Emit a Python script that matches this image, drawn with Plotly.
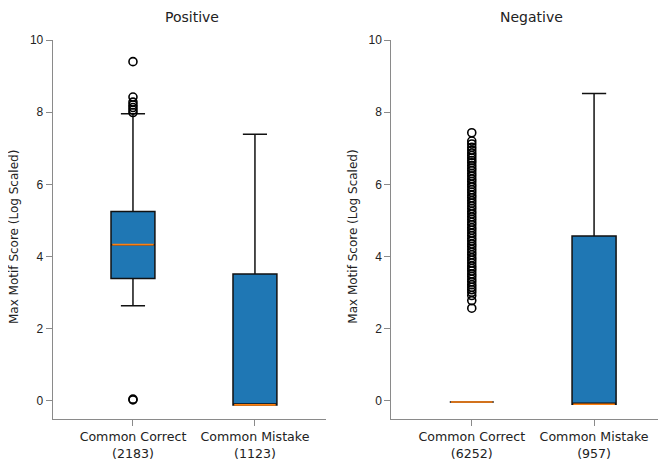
import plotly.graph_objects as go
from plotly.subplots import make_subplots

# ---- data ----
positions = [1, 2]
pos_labels = ["Common Correct<br>(2183)", "Common Mistake<br>(1123)"]
neg_labels = ["Common Correct<br>(6252)", "Common Mistake<br>(957)"]

pos_q1 = [3.39, -0.11]
pos_median = [4.33, -0.11]
pos_q3 = [5.25, 3.52]
pos_low = [2.64, -0.11]
pos_high = [7.96, 7.39]

neg_q1 = [-0.03, -0.09]
neg_median = [-0.03, -0.09]
neg_q3 = [-0.03, 4.57]
neg_low = [-0.03, -0.09]
neg_high = [-0.03, 8.52]

pos_correct_outliers = [9.40, 8.42, 8.28, 8.20, 8.13, 8.06, 7.99, 0.05, 0.03]
neg_correct_outliers = [2.57, 2.78, 2.92, 3.01, 3.08, 3.15, 3.22, 3.30, 3.37, 3.45,
                        3.52, 3.60, 3.67, 3.74, 3.82, 3.90, 3.97, 4.05, 4.12, 4.20,
                        4.28, 4.35, 4.43, 4.50, 4.58, 4.65, 4.73, 4.80, 4.88, 4.95,
                        5.03, 5.10, 5.18, 5.25, 5.33, 5.40, 5.48, 5.55, 5.63, 5.70,
                        5.78, 5.85, 5.93, 6.00, 6.08, 6.15, 6.23, 6.30, 6.38, 6.45,
                        6.52, 6.60, 6.66, 6.73, 6.80, 6.87, 6.95, 7.03, 7.12, 7.20, 7.43]

y_ticks = [0, 2, 4, 6, 8, 10]
titles = ["Positive", "Negative"]
y_title = "Max Motif Score (Log Scaled)"

# ---- style ----
BOX_FILL = "#1f77b4"
MEDIAN = "#ff7f0e"
EDGE = "#111111"
AXIS = "#8a8a8a"
BOX_W = 0.36
TEXT_FONT = "DejaVu Sans, Verdana, sans-serif"
NUM_FONT = "Liberation Sans, Arial, sans-serif"

# page body has an 8px margin, so the canvas is shrunk accordingly
W, H = 658, 451
TOP, BOTTOM = 32, 40
PLOT_H = H - TOP - BOTTOM

fig = make_subplots(rows=1, cols=2)

panels = [
    (pos_q1, pos_median, pos_q3, pos_low, pos_high, pos_correct_outliers, pos_labels),
    (neg_q1, neg_median, neg_q3, neg_low, neg_high, neg_correct_outliers, neg_labels),
]

for i, (q1, med, q3, lo, hi, outl, labels) in enumerate(panels):
    col = i + 1
    fig.add_trace(go.Box(
        x=positions, q1=q1, median=med, q3=q3, lowerfence=lo, upperfence=hi,
        boxpoints=False, width=BOX_W, whiskerwidth=0.55,
        fillcolor=BOX_FILL, line=dict(color=EDGE, width=1.5),
        showlegend=False, hoverinfo="skip"), row=1, col=col)
    # median lines (orange)
    for p, m in zip(positions, med):
        fig.add_trace(go.Scatter(
            x=[p - BOX_W / 2 + 0.01, p + BOX_W / 2 - 0.01], y=[m, m], mode="lines",
            line=dict(color=MEDIAN, width=1.6), showlegend=False, hoverinfo="skip"),
            row=1, col=col)
    # outliers
    fig.add_trace(go.Scatter(
        x=[positions[0]] * len(outl), y=outl, mode="markers",
        marker=dict(symbol="circle-open", size=8, color="black", line=dict(width=1.6)),
        showlegend=False, hoverinfo="skip"), row=1, col=col)

x_px = [[44.7, 317.7], [383.3, 657.0]]
x_domains = [[a / W, b / W] for a, b in x_px]
title_x = [5.3, 345]
for i, labels in enumerate([pos_labels, neg_labels]):
    xa = "xaxis" if i == 0 else "xaxis2"
    ya = "yaxis" if i == 0 else "yaxis2"
    fig.layout[xa].update(
        domain=x_domains[i], range=[0.342, 2.58], tickmode="array",
        tickvals=positions, ticktext=labels, showgrid=False, zeroline=False,
        showline=True, linecolor=AXIS, linewidth=1, ticks="outside", ticklen=6,
        tickcolor=AXIS, automargin=False,
        tickfont=dict(family=TEXT_FONT, size=12.6, color="#222"))
    fig.layout[ya].update(
        range=[-0.5, 10], tickmode="array", tickvals=y_ticks,
        ticktext=[str(t) for t in y_ticks], showgrid=False, zeroline=False,
        showline=True, linecolor=AXIS, linewidth=1, ticks="outside", ticklen=6,
        tickcolor=AXIS, automargin=False,
        tickfont=dict(family=NUM_FONT, size=12, color="#222"))
    fig.add_annotation(
        text=titles[i], xref="paper", yref="paper",
        x=(sum(x_px[i]) / 2 + 3) / W, y=1 + (TOP - 9) / PLOT_H, xanchor="center",
        yanchor="middle", showarrow=False,
        font=dict(family=TEXT_FONT, size=14, color="#222"))
    fig.add_annotation(
        text=y_title, xref="paper", yref="paper", textangle=-90,
        x=title_x[i] / W, y=(H - BOTTOM - 228.7) / PLOT_H, xanchor="center",
        yanchor="middle", showarrow=False,
        font=dict(family=TEXT_FONT, size=12, color="#222"))

fig.update_layout(
    width=W, height=H, margin=dict(l=0, r=0, t=TOP, b=BOTTOM),
    plot_bgcolor="white", paper_bgcolor="white", showlegend=False)

fig.write_html("out.html")
